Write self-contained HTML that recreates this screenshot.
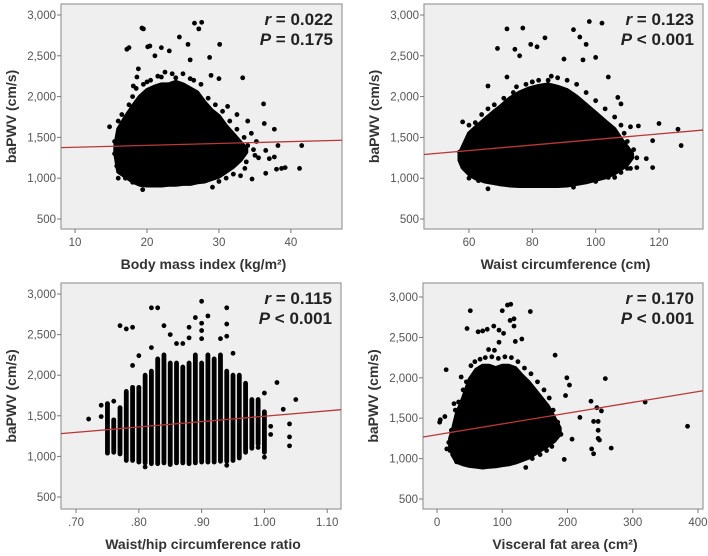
<!DOCTYPE html>
<html><head><meta charset="utf-8"><style>
html,body{margin:0;padding:0;background:#fff;}
svg{display:block;font-family:"Liberation Sans",Arial,sans-serif;}
</style></head><body>
<svg id="chart" width="708" height="556" viewBox="0 0 708 556" xmlns="http://www.w3.org/2000/svg"></svg>
<script>
// ---------- DATA ----------
// Panel A: BMI
const bmiCloudX=[15.6,16,17,18,19,20,21,22,23,24,25,26,27,28,29,30,31,32,33,33.8];
const bmiCloudLow=[1300,1080,1020,960,920,910,910,910,920,920,930,930,950,960,990,1020,1080,1140,1220,1320];
const bmiCloudHigh=[1400,1600,1750,1880,2000,2080,2120,2150,2150,2180,2150,2100,2050,1930,1830,1760,1640,1540,1440,1360];
const bmiPtsX=[14.8,15.5,17.2,17.5,18.8,19.3,19.5,20.1,20.4,21.1,22.0,23.1,24.5,25.7,26.0,26.6,27.2,27.6,28.7,30.1,28.9,30.0,33.3,31.2,32.5,34.5,36.2,36.3,37.7,38.2,41.5,41.2,39.2,38.7,38.0,36.5,37.0,35.0,34.6,33.0,29.1,19.4,34.0,35.5,36.5,37.7,17.0,16.3,18.1,18.6,
 16,16.5,17.5,18,18.5,19.5,20.5,21.5,22.5,23.5,25,26.5,27.5,28.5,29.5,30.5,31.5,32.5,33.5,34,33.8,32,31,30,18,17,16,15.8,15.5,24,26,22,20,35.2,34.8,33.6];
const bmiPtsY=[1630,1450,2580,2600,2340,2840,2830,2610,2620,2500,2600,2560,2730,2640,2450,2900,2830,2910,2480,2640,2260,2220,2230,1880,1780,1550,1910,1670,1600,1400,1400,1120,1130,1120,1110,1060,1240,1280,990,1030,890,860,1700,1250,1340,1260,1200,1350,2130,2240,
 1700,1780,1900,2000,2100,2150,2200,2250,2300,2280,2280,2200,2150,1980,1900,1820,1700,1600,1500,1400,1200,1050,1000,960,950,1000,1000,1150,1300,2230,2220,2240,2180,1450,1350,1120];
const bmiFit=[1375,1465];
// Panel B: Waist
const wcCloudX=[57,58,60,62,65,68,70,73,76,79,82,85,88,91,94,97,100,103,106,108,110,111.5];
const wcCloudLow=[1220,1130,1050,1000,960,940,925,910,905,905,905,905,905,910,930,950,980,1010,1060,1110,1170,1250];
const wcCloudHigh=[1300,1380,1550,1620,1720,1820,1880,1980,2050,2100,2130,2150,2120,2080,2000,1900,1800,1700,1600,1480,1380,1300];
const wcPtsX=[72,77,69,74.5,76,79.5,81.5,84,93,98,102,95,97,96,100,90,72,66,104,107,108,113.5,111,116,118,120,118,126,127,113,110,66,93,58,106,
 57,58,60,62,64,66,68,71,74,78,80,82,86,88,91,94,97,100,103,106,108,109,110,112,113,111,108,104,100,70,63,60,80,85,75];
const wcPtsY=[2830,2840,2590,2580,2500,2640,2610,2720,2820,2920,2900,2730,2640,2450,2480,2460,2240,2130,2240,1990,1910,1640,1630,1240,1130,1670,1460,1600,1400,1130,1120,870,890,1690,1010,
 1320,1150,1650,1680,1780,1850,1900,1980,2050,2150,2180,2200,2250,2230,2200,2150,2050,1950,1850,1750,1650,1550,1450,1350,1250,1120,1070,1010,960,930,970,1000,2180,2200,2120];
const wcFit=[1290,1590];
// Panel C: Waist/hip ratio (discrete columns)
const whrColX=[.75,.76,.77,.78,.79,.80,.81,.82,.83,.84,.85,.86,.87,.88,.89,.90,.91,.92,.93,.94,.95,.96,.97,.98,.99,1.00];
const whrColLow=[1040,1050,1030,950,950,930,920,910,910,920,900,920,920,910,920,930,930,930,940,940,950,980,1050,1100,1150,1050];
const whrColHigh=[1650,1450,1600,1800,1850,1850,2000,2050,2200,2250,2150,2150,2100,2150,2250,2150,2250,2200,2250,2050,2000,2000,1900,1700,1700,1550];
const whrPtsX=[.72,.74,.74,.75,.76,.77,.78,.79,.82,.83,.84,.85,.86,.87,.88,.88,.89,.90,.90,.90,.90,.91,.93,.94,.94,.94,.82,.80,.79,.95,1.02,1.03,1.05,1.04,1.04,1.04,1.01,1.01,1.00,1.00,.99,.81,.94];
const whrPtsY=[1460,1630,1490,1640,1680,2610,2570,2590,2830,2830,2610,2500,2390,2390,2590,2460,2710,2910,2640,2550,2450,2730,2450,2830,2630,2480,2340,2240,2120,2270,1910,1580,1700,1400,1240,1130,1370,1270,1780,990,1110,870,890];
const whrFit=[1280,1575];
// Panel D: Visceral fat area
const vfaCloudX=[20,25,30,40,50,60,70,80,90,100,110,120,130,140,150,160,170,180,188];
const vfaCloudLow=[1150,1030,960,930,910,900,890,900,905,920,930,950,980,1010,1060,1110,1160,1220,1300];
const vfaCloudHigh=[1250,1380,1550,1750,1980,2100,2150,2150,2120,2150,2150,2120,2030,1950,1850,1750,1650,1500,1380];
const vfaPtsX=[4,5,12,14,15,37,26,51,46,63,70,77,87,95,100,108,113,112,118,118,143,95,102,120,130,79,88,181,199,203,197,219,236,245,252,258,247,240,247,247,249,237,240,267,319,384,195,136,207,190,
 22,28,33,40,45,52,58,66,74,84,94,104,114,124,134,144,154,164,172,178,185,176,168,158,146,36,30,24,20,18];
const vfaPtsY=[1450,1480,1520,2100,1120,2010,1680,2830,2610,2570,2580,2600,2640,2590,2830,2900,2910,2710,2730,2640,2820,2440,2550,2450,2480,2350,2340,2280,2000,1910,1780,1510,1710,1630,1590,1990,1460,1460,1350,1250,1230,1120,1060,1130,1700,1400,990,890,1240,1300,
 1350,1600,1700,1850,1950,2150,2200,2230,2250,2260,2240,2260,2250,2200,2120,2050,1950,1850,1750,1600,1450,1150,1100,1050,1000,950,960,1050,1100,1200];
const vfaFit=[1267,1840];
const yTicks=[500,1000,1500,2000,2500,3000];
const yTickLabels=["500","1,000","1,500","2,000","2,500","3,000"];

// ---------- LAYOUT ----------
const NS="http://www.w3.org/2000/svg";
const svg=document.getElementById('chart');
function mk(tag,attrs,parent){const e=document.createElementNS(NS,tag);for(const k in attrs)e.setAttribute(k,attrs[k]);(parent||svg).appendChild(e);return e;}

const panels=[
 {key:'bmi',box:[61,4,342,229],xd:[8.05,47.1],y0:[500,219],y1:[3000,15],xt:[10,20,30,40],xl:["10","20","30","40"],
  title:'Body mass index  (kg/m²)',r:'0.022',p:'= 0.175',cx:bmiCloudX,cl:bmiCloudLow,ch:bmiCloudHigh,px:bmiPtsX,py:bmiPtsY,fit:bmiFit,cols:false},
 {key:'waist',box:[424,4,703,229],xd:[45.8,133.9],y0:[500,219],y1:[3000,15],xt:[60,80,100,120],xl:["60","80","100","120"],
  title:'Waist circumference (cm)',r:'0.123',p:'< 0.001',cx:wcCloudX,cl:wcCloudLow,ch:wcCloudHigh,px:wcPtsX,py:wcPtsY,fit:wcFit,cols:false},
 {key:'whr',box:[61,283,341,509],xd:[0.676,1.122],y0:[500,497],y1:[3000,294],xt:[.7,.8,.9,1.0,1.1],xl:[".70",".80",".90","1.00","1.10"],
  title:'Waist/hip circumference ratio',r:'0.115',p:'< 0.001',cx:whrColX,cl:whrColLow,ch:whrColHigh,px:whrPtsX,py:whrPtsY,fit:whrFit,cols:true},
 {key:'vfa',box:[423,283,703,509],xd:[-21.5,407.7],y0:[500,499],y1:[3000,297],xt:[0,100,200,300,400],xl:["0","100","200","300","400"],
  title:'Visceral fat area  (cm²)',r:'0.170',p:'< 0.001',cx:vfaCloudX,cl:vfaCloudLow,ch:vfaCloudHigh,px:vfaPtsX,py:vfaPtsY,fit:vfaFit,cols:false}
];

panels.forEach(P=>{
 const [L,T,R,B]=P.box;
 const sx=v=>L+(v-P.xd[0])/(P.xd[1]-P.xd[0])*(R-L);
 const sy=v=>P.y0[1]+(v-P.y0[0])/(P.y1[0]-P.y0[0])*(P.y1[1]-P.y0[1]);
 const g=mk('g',{});
 
 
 const bg=mk('rect',{x:L,y:T,width:R-L,height:B-T,fill:'#efefef',stroke:'#9a9a9a','stroke-width':1.2},g);
 
 
 const cp=mk('clipPath',{id:'cp-'+P.key},g);
 mk('rect',{x:L,y:T,width:R-L,height:B-T},cp);
 const inner=mk('g',{'clip-path':'url(#cp-'+P.key+')'},g);
 if(P.cols){
  P.cx.forEach((x,i)=>{
   const c=mk('line',{x1:sx(x),x2:sx(x),y1:sy(P.cl[i]),y2:sy(P.ch[i]),stroke:'#000','stroke-width':4.8,'stroke-linecap':'round'},inner);
   
   
  });
 } else {
  let d='';
  P.cx.forEach((x,i)=>{d+=(i?'L':'M')+sx(x).toFixed(1)+','+sy(P.ch[i]).toFixed(1);});
  for(let i=P.cx.length-1;i>=0;i--)d+='L'+sx(P.cx[i]).toFixed(1)+','+sy(P.cl[i]).toFixed(1);
  d+='Z';
  const c=mk('path',{d:d,fill:'#000',stroke:'#000','stroke-width':4,'stroke-linejoin':'round'},inner);
  
  
 }
 P.px.forEach((x,i)=>{
  const c=mk('circle',{cx:sx(x),cy:sy(P.py[i]),r:2.4,fill:'#000'},inner);
  
  
 });
 const fl=mk('line',{x1:sx(P.xd[0]),y1:sy(P.fit[0]),x2:sx(P.xd[1]),y2:sy(P.fit[1]),stroke:'#b8383a','stroke-width':1.3},inner);
 
 
 yTicks.forEach((v,i)=>{
  mk('line',{x1:L-4,x2:L,y1:sy(v),y2:sy(v),stroke:'#777','stroke-width':1},g);
  const t=mk('text',{x:L-5,y:sy(v)+4,'text-anchor':'end','font-size':11.5,fill:'#555'},g);
  t.textContent=yTickLabels[i];
  
  
 });
 P.xt.forEach((v,i)=>{
  mk('line',{x1:sx(v),x2:sx(v),y1:B,y2:B+4,stroke:'#777','stroke-width':1},g);
  const t=mk('text',{x:sx(v),y:B+17,'text-anchor':'middle','font-size':11.5,fill:'#555'},g);
  t.textContent=P.xl[i];
  
  
 });
 const xt=mk('text',{x:(L+R)/2+2,y:B+40,'text-anchor':'middle','font-size':14,'font-weight':'bold',fill:'#333'},g);
 xt.textContent=P.title;
 
 
 const yt=mk('text',{x:0,y:0,transform:'translate('+(L-45)+','+((T+B)/2)+') rotate(-90)','text-anchor':'middle','font-size':14,'font-weight':'bold',fill:'#333'},g);
 yt.textContent='baPWV (cm/s)';
 
 
 const rt=mk('text',{x:R-9,y:T+21,'text-anchor':'end','font-size':17,'font-weight':'bold',fill:'#222'},g);
 rt.innerHTML='<tspan font-style="italic">r</tspan> = '+P.r;
 
 
 const pt=mk('text',{x:R-9,y:T+41,'text-anchor':'end','font-size':17,'font-weight':'bold',fill:'#222'},g);
 pt.innerHTML='<tspan font-style="italic">P</tspan> '+P.p;
 
 
});
</script>
</body></html>
